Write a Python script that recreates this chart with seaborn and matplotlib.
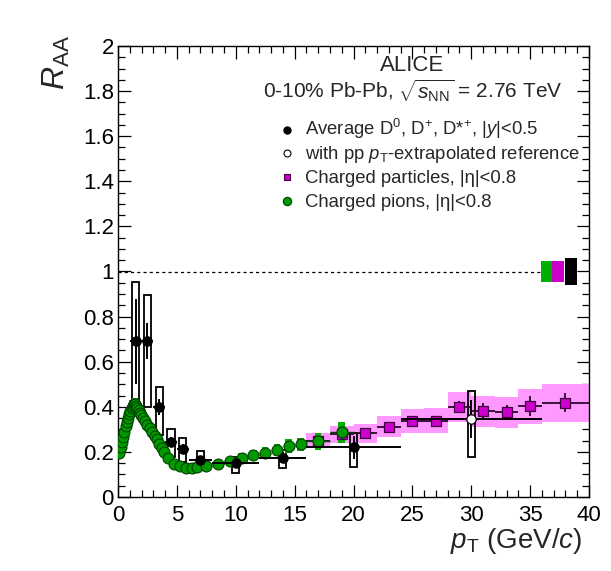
import numpy as np
import pandas as pd
import matplotlib
matplotlib.use('Agg')
import matplotlib.pyplot as plt
import seaborn as sns
from matplotlib.ticker import MultipleLocator, FuncFormatter

# ---------------- data ----------------
# Average D0, D+, D*+ (ALICE, 0-10% Pb-Pb)
pt_D = [1.5, 2.5, 3.5, 4.5, 5.5, 7.0, 10.0, 14.0, 20.0, 30.0]
raa_D = [0.69, 0.69, 0.40, 0.245, 0.215, 0.165, 0.15, 0.175, 0.22, 0.345]
xerr_D = [0.5, 0.5, 0.5, 0.5, 0.5, 1.0, 2.0, 2.0, 4.0, 6.0]
stat_D = [0.19, 0.08, 0.035, 0.02, 0.018, 0.015, 0.015, 0.025, 0.05, 0.085]
sys_lo_D = [0.40, 0.40, 0.275, 0.179, 0.157, 0.12, 0.105, 0.127, 0.134, 0.179]
sys_hi_D = [0.952, 0.896, 0.486, 0.30, 0.263, 0.204, 0.179, 0.208, 0.282, 0.47]
extrap_D = [False, False, False, False, False, False, False, False, False, True]

# Charged particles |eta|<0.8
pt_h = [17, 19, 21, 23, 25, 27, 29, 31, 33, 35, 38]
raa_h = [0.25, 0.28, 0.285, 0.312, 0.337, 0.337, 0.399, 0.38, 0.375, 0.403, 0.418]
xerr_h = [1, 1, 1, 1, 1, 1, 1, 1, 1, 1, 2]
stat_h = [0.01, 0.01, 0.012, 0.014, 0.015, 0.02, 0.026, 0.037, 0.035, 0.044, 0.043]
sys_lo_h = [0.216, 0.24, 0.241, 0.267, 0.282, 0.282, 0.334, 0.312, 0.307, 0.324, 0.334]
sys_hi_h = [0.282, 0.315, 0.324, 0.36, 0.39, 0.393, 0.464, 0.448, 0.445, 0.479, 0.501]

# Charged pions |eta|<0.8
pt_pi = [0.12, 0.25, 0.35, 0.45, 0.55, 0.65, 0.75, 0.85, 0.95, 1.05, 1.15, 1.25,
         1.35, 1.45, 1.55, 1.65, 1.75, 1.85, 1.95, 2.1, 2.3, 2.5, 2.7, 2.9, 3.1,
         3.3, 3.5, 3.7, 3.9, 4.25, 4.75, 5.25, 5.75, 6.25, 6.75, 7.5, 8.5, 9.5,
         10.5, 11.5, 12.5, 13.5, 14.5, 15.5, 17, 19]
raa_pi = [0.195, 0.222, 0.243, 0.265, 0.289, 0.313, 0.333, 0.351, 0.366, 0.380,
          0.393, 0.404, 0.412, 0.413, 0.405, 0.395, 0.384, 0.373, 0.363, 0.350,
          0.335, 0.320, 0.305, 0.289, 0.272, 0.255, 0.237, 0.219, 0.201, 0.172,
          0.148, 0.136, 0.130, 0.129, 0.133, 0.137, 0.146, 0.160, 0.175, 0.186,
          0.197, 0.210, 0.226, 0.233, 0.247, 0.287]
xerr_pi = [0.05, 0.05, 0.05, 0.05, 0.05, 0.05, 0.05, 0.05, 0.05, 0.05, 0.05, 0.05,
           0.05, 0.05, 0.05, 0.05, 0.05, 0.05, 0.05, 0.1, 0.1, 0.1, 0.1, 0.1, 0.1,
           0.1, 0.1, 0.1, 0.1, 0.25, 0.25, 0.25, 0.25, 0.25, 0.25, 0.5, 0.5, 0.5,
           0.5, 0.5, 0.5, 0.5, 0.5, 0.5, 1.0, 1.0]
stat_pi = [0.002, 0.002, 0.002, 0.002, 0.002, 0.002, 0.002, 0.002, 0.002, 0.002,
           0.002, 0.002, 0.002, 0.002, 0.002, 0.002, 0.002, 0.002, 0.002, 0.002,
           0.002, 0.002, 0.002, 0.002, 0.002, 0.002, 0.002, 0.002, 0.002, 0.003,
           0.003, 0.003, 0.003, 0.003, 0.003, 0.004, 0.004, 0.005, 0.006, 0.007,
           0.008, 0.009, 0.01, 0.012, 0.02, 0.03]
sys_pi = [0.015, 0.016, 0.017, 0.018, 0.019, 0.02, 0.021, 0.022, 0.022, 0.023,
          0.023, 0.024, 0.024, 0.024, 0.024, 0.023, 0.023, 0.022, 0.022, 0.021,
          0.02, 0.02, 0.019, 0.018, 0.017, 0.016, 0.015, 0.014, 0.013, 0.012,
          0.011, 0.011, 0.011, 0.011, 0.012, 0.012, 0.013, 0.015, 0.02, 0.022,
          0.024, 0.026, 0.03, 0.03, 0.038, 0.046]

# normalisation uncertainties around R_AA = 1 (pions, charged, D)
norm_x = [36.4, 37.4, 38.45]
norm_err = [0.047, 0.047, 0.058]

# ---------------- style ----------------
sns.set_style('ticks')
plt.rcParams['font.family'] = ['Liberation Sans', 'DejaVu Sans']
plt.rcParams['mathtext.fontset'] = 'custom'
plt.rcParams['mathtext.rm'] = 'Liberation Sans'
plt.rcParams['mathtext.it'] = 'Liberation Sans:italic'
plt.rcParams['mathtext.bf'] = 'Liberation Sans:bold'

GREEN = '#009a00'
GREEN_BOX = '#00b000'
GREEN_EDGE = '#004000'
MAGENTA = '#cc00cc'
PINK = '#ff99ff'

fig = plt.figure(figsize=(6.11, 5.71), dpi=100)
ax = fig.add_axes([118 / 611, 1 - 497 / 571, 471 / 611, 451 / 571])

df_D = pd.DataFrame(dict(pt=pt_D, raa=raa_D, xerr=xerr_D, stat=stat_D,
                         lo=sys_lo_D, hi=sys_hi_D, extrap=extrap_D))
df_h = pd.DataFrame(dict(pt=pt_h, raa=raa_h, xerr=xerr_h, stat=stat_h,
                         lo=sys_lo_h, hi=sys_hi_h))
df_pi = pd.DataFrame(dict(pt=pt_pi, raa=raa_pi, xerr=xerr_pi, stat=stat_pi,
                          sys=sys_pi))

# reference line at 1
ax.plot([0, 36], [1, 1], color='black', lw=0.9, ls=(0, (2.5, 2.5)), zorder=1)

# normalisation boxes
ax.bar(norm_x, [2 * e for e in norm_err], width=[1.0, 1.0, 1.05],
       bottom=[1 - e for e in norm_err], color=[GREEN_BOX, MAGENTA, 'black'],
       linewidth=0, zorder=2)

# charged particle systematic boxes
ax.bar(df_h.pt, df_h.hi - df_h.lo, width=2 * df_h.xerr, bottom=df_h.lo,
       color=PINK, linewidth=0, zorder=1)

# D meson systematic boxes (open)
ax.bar(df_D.pt, df_D.hi - df_D.lo, width=0.6, bottom=df_D.lo, fill=False,
       edgecolor='black', linewidth=1.3, zorder=2)

# pion systematic boxes
ax.bar(df_pi.pt, 2 * df_pi.sys, width=0.55, bottom=df_pi.raa - df_pi.sys,
       color=GREEN_BOX, linewidth=0, zorder=2.5)

# charged particles: error bars + markers
ax.errorbar(df_h.pt, df_h.raa, xerr=df_h.xerr, yerr=df_h.stat, fmt='none',
            ecolor='#2a0a2a', elinewidth=1.3, capsize=0, zorder=3)
sns.scatterplot(data=df_h, x='pt', y='raa', ax=ax, marker='s', s=48,
                color=MAGENTA, edgecolor='#400040', linewidth=0.9, zorder=3.5,
                legend=False)

# pions
ax.errorbar(df_pi.pt, df_pi.raa, xerr=df_pi.xerr, yerr=df_pi.stat, fmt='none',
            ecolor=GREEN_EDGE, elinewidth=1.0, capsize=0, zorder=3.6)
sns.scatterplot(data=df_pi, x='pt', y='raa', ax=ax, marker='o', s=62,
                color=GREEN, edgecolor=GREEN_EDGE, linewidth=0.8, zorder=4,
                legend=False)

# D mesons
ax.errorbar(df_D.pt, df_D.raa, xerr=df_D.xerr, yerr=df_D.stat, fmt='none',
            ecolor='black', elinewidth=1.4, capsize=0, zorder=5)
sns.scatterplot(data=df_D[~df_D.extrap], x='pt', y='raa', ax=ax, marker='o',
                s=46, color='black', edgecolor='black', linewidth=0.8,
                zorder=6, legend=False)
sns.scatterplot(data=df_D[df_D.extrap], x='pt', y='raa', ax=ax, marker='o',
                s=46, color='white', edgecolor='black', linewidth=0.9,
                zorder=6, legend=False)

# ---------------- axes ----------------
ax.set_xlim(0, 40)
ax.set_ylim(0, 2)
ax.xaxis.set_major_locator(MultipleLocator(5))
ax.xaxis.set_minor_locator(MultipleLocator(1))
ax.yaxis.set_major_locator(MultipleLocator(0.2))
ax.yaxis.set_minor_locator(MultipleLocator(0.05))
fmt = FuncFormatter(lambda v, p: '%g' % round(v, 3))
ax.xaxis.set_major_formatter(fmt)
ax.yaxis.set_major_formatter(fmt)
for s in ax.spines.values():
    s.set_visible(True)
    s.set_linewidth(1.0)
    s.set_color('black')
ax.tick_params(which='both', direction='in', top=True, right=True,
               colors='black', width=0.9, labelsize=16)
ax.tick_params(which='major', length=9)
ax.tick_params(which='minor', length=4.7)
ax.tick_params(axis='x', which='major', pad=6)
ax.tick_params(axis='y', which='major', pad=3)

ax.set_xlabel(r'$p_{\rm T}$ (GeV/$c$)', fontsize=20, loc='right')
ax.xaxis.set_label_coords(0.987, -0.064)
ax.set_ylabel(r'$R_{\rm AA}$', fontsize=23, loc='top')
ax.yaxis.set_label_coords(-0.097, 1.024)

# ---------------- texts / legend ----------------
ax.text(0.6253, 0.944, 'ALICE', transform=ax.transAxes, ha='center',
        va='baseline', fontsize=16)
ax.text(0.3085, 0.8846, r'0-10% Pb-Pb, $\sqrt{s_{\rm NN}}$ = 2.76 TeV',
        transform=ax.transAxes, ha='left', va='baseline', fontsize=15)

leg_labels = [r'Average D$^{0}$, D$^{+}$, D*$^{+}$, |$y$|<0.5',
              r'with pp $p_{\rm T}$-extrapolated reference',
              'Charged particles, |η|<0.8',
              'Charged pions, |η|<0.8']
leg_style = [dict(marker='o', ms=5, mfc='black', mec='black'),
             dict(marker='o', ms=5, mfc='white', mec='black', mew=0.8),
             dict(marker='s', ms=5, mfc=MAGENTA, mec='#400040', mew=0.8),
             dict(marker='o', ms=6, mfc=GREEN, mec=GREEN_EDGE, mew=0.8)]
mark_y = [0.8137, 0.7621, 0.7102, 0.6570]
text_y = [0.8027, 0.7494, 0.6969, 0.6437]
for lab, st, my, ty in zip(leg_labels, leg_style, mark_y, text_y):
    ax.plot([0.358], [my], transform=ax.transAxes, ls='none', clip_on=False,
            **st)
    ax.text(0.397, ty, lab, transform=ax.transAxes, ha='left', va='baseline',
            fontsize=13.3)

fig.savefig('out.png', dpi=100)
